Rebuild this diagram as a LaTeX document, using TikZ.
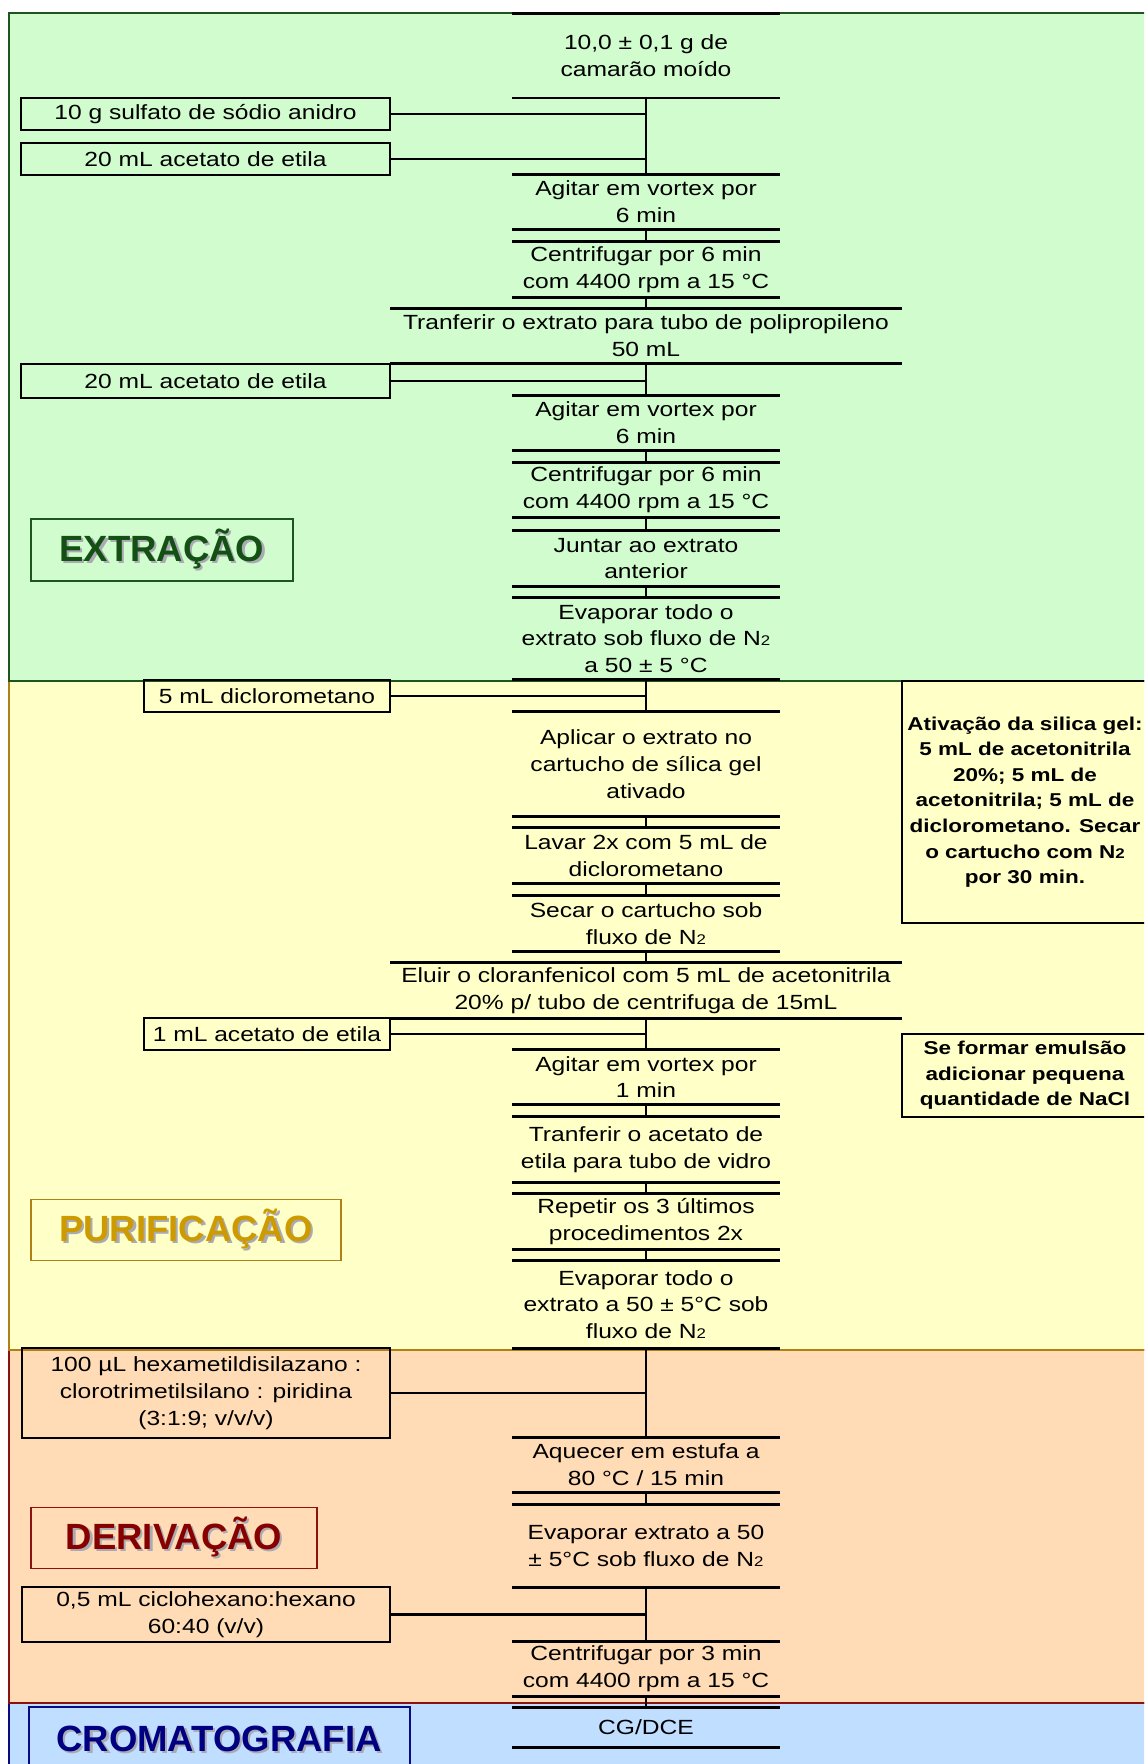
\documentclass[tikz,border=0pt]{standalone}
\usepackage{fontspec}
\setmainfont{Liberation Sans}
\newfontfamily\stepfam[FakeStretch=1.2]{Liberation Sans}
\newfontfamily\notefam[FakeStretch=1.21]{Liberation Sans}

\definecolor{extfill}{RGB}{208,252,206}
\definecolor{purfill}{RGB}{255,255,200}
\definecolor{derfill}{RGB}{255,220,182}
\definecolor{crofill}{RGB}{192,222,255}
\definecolor{extline}{RGB}{30,85,30}
\definecolor{purline}{RGB}{176,128,20}
\definecolor{derline}{RGB}{140,18,18}
\definecolor{croline}{RGB}{10,10,130}
\definecolor{exttext}{RGB}{20,80,20}
\definecolor{purtext}{RGB}{205,155,0}
\definecolor{dertext}{RGB}{135,0,0}
\definecolor{crotext}{RGB}{0,0,128}
\definecolor{shade}{RGB}{170,170,180}

\newcommand\stepsize{\stepfam\fontsize{20.5}{26.7}\selectfont}
\newcommand\notesize{\notefam\bfseries\fontsize{18.6}{25.6}\selectfont}
\newcommand\phasesize{\bfseries\fontsize{36.5}{40}\selectfont}
\newcommand\Ntwo{N{\fontsize{14}{14}\selectfont 2}}
% heading word with a soft grey drop shadow behind it
\newcommand\shadowed[1]{\rlap{\kern2.2pt\raisebox{-2.2pt}{\textcolor{shade}{#1}}}#1}

\tikzset{
  stepbox/.style={minimum width=268pt, inner sep=0pt, align=center, font=\stepsize},
  widebox/.style={stepbox, minimum width=512pt},
  stepline/.style={line width=2.8pt},
  link/.style={line width=2.4pt},
  inbox/.style={draw, line width=2.6pt, inner sep=0pt, align=center, font=\stepsize},
  notebox/.style={draw, line width=2.6pt, inner sep=0pt, align=center, font=\notesize},
  phase/.style={draw, line width=1.8pt, inner sep=0pt, font=\phasesize},
}

% step node: style, name, top, bottom, text
\newcommand\stepat[5]{\node[#1, minimum height={#4-#3}] (#2) at (646,{(#3+#4)/2}) {#5};}

\begin{document}
\begin{tikzpicture}[x=1pt, y=-1pt]
\useasboundingbox (0,0) rectangle (1144,1764);
\clip (0,0) rectangle (1144,1764);
\fill[white] (0,0) rectangle (1144,1764);

% phase backgrounds
\fill[extfill] (9,13) rectangle (1150,681);
\fill[purfill] (9,681) rectangle (1150,1350);
\fill[derfill] (9,1350) rectangle (1150,1703);
\fill[crofill] (9,1703) rectangle (1150,1780);
\draw[croline, line width=2pt] (1150,1703) -- (9,1703) -- (9,1780);
\draw[derline, line width=2pt] (1150,1350) -- (9,1350) -- (9,1703) -- (1150,1703);
\draw[purline, line width=2pt] (1150,681) -- (9,681) -- (9,1350) -- (1150,1350);
\draw[extline, line width=2pt] (1150,13) -- (9,13) -- (9,681) -- (1150,681);

% phase labels
\node[phase, draw=extline, text=exttext, minimum width=262pt, minimum height=62pt] (pext) at (162,550) {\shadowed{EXTRAÇÃO}};
\node[phase, draw=purline, text=purtext, minimum width=310pt, minimum height=61pt] (ppur) at (186,1230) {\shadowed{PURIFICAÇÃO}};
\node[phase, draw=derline, text=dertext, minimum width=286pt, minimum height=61pt] (pder) at (174,1538) {\shadowed{DERIVAÇÃO}};
\draw[croline, line width=1.8pt] (29,1790) -- (29,1707) -- (410,1707) -- (410,1790);
\node[text=crotext, font=\phasesize] (pcro) at (219,1740) {\shadowed{CROMATOGRAFIA}};

% main sequence of steps
\stepat{stepbox}{s1}{13.3}{97.7}{10,0 ± 0,1 g de\\camarão moído}
\stepat{stepbox}{s2}{175}{229}{Agitar em vortex por\\6 min}
\stepat{stepbox}{s3}{242}{297}{Centrifugar por 6 min\\com 4400 rpm a 15 °C}
\stepat{widebox}{s4}{309}{363}{Tranferir o extrato para tubo de polipropileno\\50 mL}
\stepat{stepbox}{s5}{396}{450}{Agitar em vortex por\\6 min}
\stepat{stepbox}{s6}{463}{517}{Centrifugar por 6 min\\com 4400 rpm a 15 °C}
\stepat{stepbox}{s7}{531}{586}{Juntar ao extrato\\anterior}
\stepat{stepbox}{s8}{598}{679}{Evaporar todo o\\extrato sob fluxo de \Ntwo\\a 50 ± 5 °C}
\stepat{stepbox}{s9}{712}{816}{Aplicar o extrato no\\cartucho de sílica gel\\ativado}
\stepat{stepbox}{s10}{828}{883}{Lavar 2x com 5 mL de\\diclorometano}
\stepat{stepbox}{s11}{896}{951}{Secar o cartucho sob\\fluxo de \Ntwo}
\stepat{widebox}{s12}{963}{1018}{Eluir o cloranfenicol com 5 mL de acetonitrila\\20\% p/ tubo de centrifuga de 15mL}
\stepat{stepbox}{s13}{1050}{1104}{Agitar em vortex por\\1 min}
\stepat{stepbox}{s14}{1117}{1182}{Tranferir o acetato de\\etila para tubo de vidro}
\stepat{stepbox}{s15}{1194}{1249}{Repetir os 3 últimos\\procedimentos 2x}
\stepat{stepbox}{s16}{1261}{1348}{Evaporar todo o\\extrato a 50 ± 5°C sob\\fluxo de \Ntwo}
\stepat{stepbox}{s17}{1438}{1492}{Aquecer em estufa a\\80 °C / 15 min}
\stepat{stepbox}{s18}{1505}{1587}{Evaporar extrato a 50\\± 5°C sob fluxo de \Ntwo}
\stepat{stepbox}{s19}{1642}{1696}{Centrifugar por 3 min\\com 4400 rpm a 15 °C}
\stepat{stepbox}{s20}{1708}{1747}{CG/DCE}

\foreach \s in {s1,s2,s3,s4,s5,s6,s7,s8,s9,s10,s11,s12,s13,s14,s15,s16,s17,s18,s19,s20}
  \draw[stepline] (\s.north west) -- (\s.north east) (\s.south west) -- (\s.south east);

% reagents added on the left
\node[inbox, minimum width=369pt, minimum height=32pt] (a1) at (205.5,114) {10 g sulfato de sódio anidro};
\node[inbox, minimum width=369pt, minimum height=32pt] (a2) at (205.5,159) {20 mL acetato de etila};
\node[inbox, minimum width=369pt, minimum height=34pt] (a3) at (205.5,381) {20 mL acetato de etila};
\node[inbox, minimum width=246pt, minimum height=32pt] (a4) at (267,696) {5 mL diclorometano};
\node[inbox, minimum width=246pt, minimum height=32pt] (a5) at (267,1034) {1 mL acetato de etila};
\node[inbox, minimum width=368pt, minimum height=90pt] (a6) at (206,1393) {100 µL hexametildisilazano :\\clorotrimetilsilano : piridina\\(3:1:9; v/v/v)};
\node[inbox, minimum width=368pt, minimum height=55pt] (a7) at (206,1614.5) {0,5 mL ciclohexano:hexano\\60:40 (v/v)};

% notes on the right
\node[notebox, minimum width=246pt, minimum height=242pt] (r1) at (1025,802) {Ativação da silica gel:\\5 mL de acetonitrila\\20\%; 5 mL de\\acetonitrila; 5 mL de\\diclorometano. Secar\\o cartucho com \Ntwo\\por 30 min.};
\node[notebox, minimum width=246pt, minimum height=83pt] (r2) at (1025,1075.5) {Se formar emulsão\\adicionar pequena\\quantidade de NaCl};

% connectors between steps
\foreach \a/\b in {s1/s2,s2/s3,s3/s4,s4/s5,s5/s6,s6/s7,s7/s8,s8/s9,s9/s10,s10/s11,s11/s12,s12/s13,s13/s14,s14/s15,s15/s16,s16/s17,s17/s18,s18/s19,s19/s20}
  \draw[link] (\a.south) -- (\b.north);

% reagent feeds joining the main line
\draw[link] (a1.east) -- (a1.east -| s1.south);
\draw[link] (a2.east) -- (a2.east -| s1.south);
\draw[link] (a3.east) -- (a3.east -| s4.south);
\draw[link] (a4.east) -- (a4.east -| s8.south);
\draw[link] (a5.east) -- (a5.east -| s12.south);
\draw[link] (a6.east) -- (a6.east -| s16.south);
\draw[link] (a7.east) -- (a7.east -| s18.south);
\end{tikzpicture}
\end{document}
